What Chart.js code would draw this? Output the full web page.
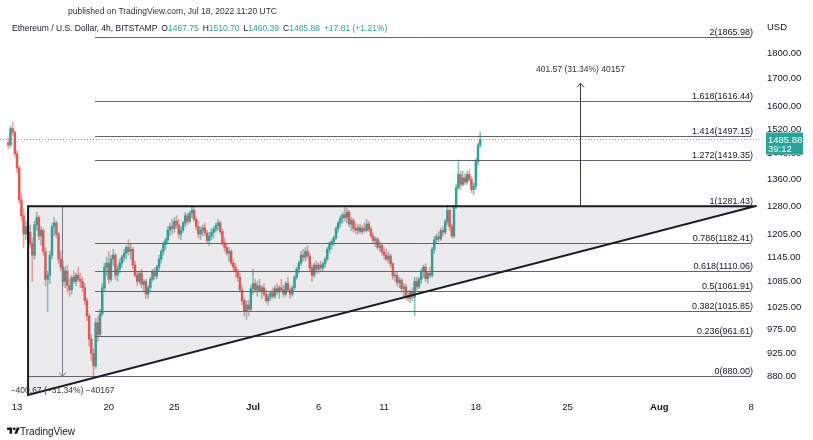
<!DOCTYPE html>
<html>
<head>
<meta charset="utf-8">
<script src="https://cdn.jsdelivr.net/npm/chart.js@4.4.1/dist/chart.umd.min.js"></script>
<style>
  html, body { margin: 0; padding: 0; background: #fff; }
  #wrap { position: relative; width: 813px; height: 440px; overflow: hidden; }
  canvas { display: block; }
  .txt { position: absolute; font-family: "Liberation Sans", Arial, sans-serif; color: #131722; white-space: nowrap; }
  .v { color: #26a69a; }
  .g { margin-left: 4px; }
</style>
</head>
<body>
<div id="wrap">
  <canvas id="chart" width="813" height="440"></canvas>
  <div class="txt" style="left:68px;top:6px;font-size:8.5px;color:#333;">published on TradingView.com, Jul 18, 2022 11:20 UTC</div>
  <div class="txt" style="left:12px;top:23px;font-size:8.5px;">Ethereum / U.S. Dollar, 4h, BITSTAMP<span class="g">O</span><span class="v">1467.75</span><span class="g">H</span><span class="v">1510.70</span><span class="g">L</span><span class="v">1460.39</span><span class="g">C</span><span class="v">1485.88</span><span class="v g">+17.81 (+1.21%)</span></div>
  <div class="txt" style="left:7px;top:426px;font-size:10px;">
    <svg width="13" height="10" viewBox="0 0 36 28" style="vertical-align:-1px"><path d="M14 22H7V11H0V4h14v18z" fill="#131722"/><circle cx="20" cy="8" r="4" fill="#131722"/><path d="M28 22h-8l7.5-18h8L28 22z" fill="#131722"/></svg>TradingView
  </div>
</div>
<script>
// 4h candles, Jun 12 08:00 UTC .. Jul 18 08:00 UTC (x axis = days since Jun 13 00:00)
const firstCandleDay = -2 / 3;

const opens = [
  1475, 1468, 1522, 1510,                     // Jun 12
  1440, 1395, 1300, 1255, 1205, 1225,         // Jun 13
  1210, 1180, 1150, 1230, 1250, 1200,         // Jun 14
  1215, 1160, 1090, 1100, 1150, 1225,         // Jun 15
  1235, 1205, 1140, 1120, 1085, 1110,         // Jun 16
  1075, 1065, 1095, 1085, 1100, 1090,         // Jun 17
  1085, 1070, 1040, 1005, 955, 925,           // Jun 18
  900, 990, 965, 1010, 1070, 1120,            // Jun 19
  1130, 1090, 1140, 1150, 1100, 1115,         // Jun 20
  1130, 1145, 1155, 1170, 1160, 1165,         // Jun 21
  1125, 1100, 1085, 1105, 1078, 1085,         // Jun 22
  1055, 1070, 1090, 1110, 1098, 1120,         // Jun 23
  1140, 1160, 1178, 1190, 1215, 1225,         // Jun 24
  1220, 1240, 1230, 1205, 1215, 1235,         // Jun 25
  1255, 1240, 1262, 1270, 1245, 1225,         // Jun 26
  1205, 1215, 1222, 1208, 1188, 1200,         // Jun 27
  1210, 1218, 1228, 1235, 1212, 1182,         // Jun 28
  1170, 1155, 1160, 1130, 1120, 1110,         // Jun 29
  1095, 1065, 1040, 1015, 1030, 1020,         // Jun 30
  1068, 1080, 1065, 1075, 1062, 1070,         // Jul 1
  1055, 1040, 1048, 1058, 1050, 1068,         // Jul 2
  1060, 1070, 1065, 1055, 1080, 1065,         // Jul 3
  1055, 1070, 1095, 1115, 1130, 1150,         // Jul 4
  1145, 1160, 1148, 1118, 1100, 1125,         // Jul 5
  1115, 1125, 1118, 1128, 1140, 1165,         // Jul 6
  1178, 1185, 1195, 1220, 1235, 1248,         // Jul 7
  1258, 1250, 1265, 1232, 1242, 1220,         // Jul 8
  1215, 1222, 1212, 1220, 1215, 1232,         // Jul 9
  1218, 1200, 1188, 1192, 1170, 1175,         // Jul 10
  1158, 1150, 1140, 1148, 1128, 1098,         // Jul 11
  1100, 1082, 1088, 1068, 1072, 1050,         // Jul 12
  1045, 1060, 1048, 1085, 1072, 1090,         // Jul 13
  1110, 1120, 1092, 1105, 1100, 1165,         // Jul 14
  1190, 1198, 1192, 1215, 1210, 1238,         // Jul 15
  1270, 1225, 1200, 1280, 1335, 1375,         // Jul 16
  1345, 1365, 1352, 1375, 1360, 1330,         // Jul 17
  1340, 1415, 1467.75                         // Jul 18
];
const highs = [
  1490, 1530, 1545, 1515,
  1450, 1400, 1320, 1275, 1240, 1250,
  1230, 1195, 1240, 1265, 1255, 1225,
  1220, 1170, 1110, 1160, 1235, 1250,
  1240, 1210, 1160, 1135, 1120, 1125,
  1090, 1100, 1110, 1105, 1120, 1105,
  1095, 1080, 1045, 1010, 965, 935,
  1000, 1005, 1020, 1080, 1130, 1145,
  1160, 1150, 1165, 1155, 1125, 1140,
  1150, 1165, 1175, 1190, 1180, 1170,
  1135, 1110, 1110, 1115, 1090, 1090,
  1075, 1095, 1115, 1118, 1125, 1150,
  1165, 1185, 1195, 1225, 1235, 1245,
  1250, 1255, 1245, 1225, 1240, 1265,
  1262, 1268, 1281, 1278, 1252, 1240,
  1225, 1230, 1235, 1215, 1210, 1220,
  1225, 1235, 1245, 1240, 1218, 1195,
  1180, 1170, 1165, 1140, 1130, 1115,
  1105, 1075, 1045, 1040, 1040, 1075,
  1115, 1090, 1085, 1090, 1075, 1080,
  1065, 1055, 1062, 1070, 1075, 1080,
  1075, 1090, 1075, 1085, 1095, 1070,
  1075, 1100, 1120, 1135, 1160, 1165,
  1170, 1175, 1155, 1125, 1130, 1135,
  1130, 1135, 1132, 1145, 1170, 1185,
  1192, 1200, 1225, 1240, 1255, 1265,
  1278, 1275, 1270, 1250, 1248, 1235,
  1230, 1232, 1228, 1235, 1245, 1240,
  1225, 1208, 1198, 1196, 1185, 1180,
  1170, 1165, 1158, 1152, 1132, 1110,
  1108, 1095, 1092, 1080, 1078, 1062,
  1065, 1070, 1095, 1095, 1095, 1115,
  1125, 1128, 1110, 1120, 1170, 1200,
  1205, 1210, 1222, 1225, 1245, 1285,
  1275, 1232, 1285, 1345, 1420, 1385,
  1385, 1378, 1385, 1390, 1370, 1350,
  1425, 1475, 1510.70
];
const lows = [
  1455, 1460, 1500, 1430,
  1380, 1290, 1240, 1170, 1190, 1195,
  1170, 1085, 1140, 1215, 1190, 1175,
  1150, 1075, 1015, 1080, 1140, 1200,
  1195, 1130, 1110, 1075, 1070, 1060,
  1050, 1055, 1080, 1075, 1085, 1070,
  1060, 1030, 995, 940, 910, 881,
  895, 950, 960, 1005, 1060, 1100,
  1080, 1085, 1125, 1090, 1085, 1105,
  1120, 1135, 1140, 1150, 1140, 1115,
  1095, 1075, 1080, 1070, 1060, 1045,
  1045, 1060, 1085, 1090, 1092, 1110,
  1130, 1150, 1165, 1180, 1200, 1205,
  1210, 1220, 1195, 1190, 1210, 1225,
  1230, 1235, 1250, 1240, 1215, 1195,
  1190, 1200, 1200, 1180, 1175, 1190,
  1195, 1210, 1215, 1205, 1175, 1160,
  1150, 1135, 1125, 1110, 1095, 1085,
  1060, 1030, 1005, 998, 1005, 1015,
  1055, 1060, 1050, 1060, 1045, 1050,
  1035, 1030, 1040, 1045, 1045, 1055,
  1045, 1060, 1048, 1050, 1060, 1045,
  1050, 1065, 1090, 1105, 1125, 1135,
  1135, 1140, 1110, 1085, 1095, 1105,
  1105, 1110, 1110, 1120, 1135, 1155,
  1165, 1175, 1190, 1210, 1225, 1235,
  1240, 1235, 1225, 1215, 1210, 1205,
  1205, 1208, 1205, 1210, 1210, 1212,
  1195, 1180, 1172, 1165, 1160, 1150,
  1140, 1135, 1130, 1120, 1090, 1085,
  1075, 1070, 1060, 1050, 1042, 1038,
  1035, 1040, 1006, 1065, 1068, 1080,
  1095, 1085, 1080, 1095, 1095, 1155,
  1180, 1185, 1188, 1200, 1205, 1230,
  1215, 1195, 1195, 1275, 1330, 1330,
  1340, 1345, 1345, 1355, 1320, 1315,
  1330, 1405, 1460.39
];
const closes = [
  1468, 1522, 1510, 1440,
  1395, 1300, 1255, 1205, 1225, 1210,
  1180, 1150, 1230, 1250, 1200, 1215,
  1160, 1090, 1100, 1150, 1225, 1235,
  1205, 1140, 1120, 1085, 1110, 1075,
  1065, 1095, 1085, 1100, 1090, 1085,
  1070, 1040, 1005, 955, 925, 900,
  990, 965, 1010, 1070, 1120, 1130,
  1090, 1140, 1150, 1100, 1115, 1130,
  1145, 1155, 1170, 1160, 1165, 1125,
  1100, 1085, 1105, 1078, 1085, 1055,
  1070, 1090, 1110, 1098, 1120, 1140,
  1160, 1178, 1190, 1215, 1225, 1220,
  1240, 1230, 1205, 1215, 1235, 1255,
  1240, 1262, 1270, 1245, 1225, 1205,
  1215, 1222, 1208, 1188, 1200, 1210,
  1218, 1228, 1235, 1212, 1182, 1170,
  1155, 1160, 1130, 1120, 1110, 1095,
  1065, 1040, 1015, 1030, 1020, 1068,
  1080, 1065, 1075, 1062, 1070, 1055,
  1040, 1048, 1058, 1050, 1068, 1060,
  1070, 1065, 1055, 1080, 1065, 1055,
  1070, 1095, 1115, 1130, 1150, 1145,
  1160, 1148, 1118, 1100, 1125, 1115,
  1125, 1118, 1128, 1140, 1165, 1178,
  1185, 1195, 1220, 1235, 1248, 1258,
  1250, 1265, 1232, 1242, 1220, 1215,
  1222, 1212, 1220, 1215, 1232, 1218,
  1200, 1188, 1192, 1170, 1175, 1158,
  1150, 1140, 1148, 1128, 1098, 1100,
  1082, 1088, 1068, 1072, 1050, 1045,
  1060, 1048, 1085, 1072, 1090, 1110,
  1120, 1092, 1105, 1100, 1165, 1190,
  1198, 1192, 1215, 1210, 1238, 1270,
  1225, 1200, 1280, 1335, 1375, 1345,
  1365, 1352, 1375, 1360, 1330, 1340,
  1415, 1467.75, 1485.88
];

// axes
const xMin = -1.3, xMax = 56.45;
const yMin = 840, yMax = 1949;
const dayTicks = [0, 7, 12, 18, 23, 28, 35, 42, 49, 56];
const dayLabels = ["13", "20", "25", "Jul", "6", "11", "18", "25", "Aug", "8"];
const priceTicks = [880, 925, 975, 1025, 1085, 1145, 1205, 1280, 1360, 1440, 1520, 1600, 1700, 1800];

// fibonacci extension
const fibRatios = ["2", "1.618", "1.414", "1.272", "1", "0.786", "0.618", "0.5", "0.382", "0.236", "0"];
const fibPrices = [1865.98, 1616.44, 1497.15, 1419.35, 1281.43, 1182.41, 1110.06, 1061.91, 1015.85, 961.61, 880.00];
const fibFromDay = 5.95, fibToDay = 56.0;

// ascending triangle
const triangleDays = [0.84, 0.84, 56.3];
const trianglePrices = [1281.43, 843.7, 1281.43];

// price ranges
const dropDays = [0.84, 5.95];
const dropPrices = [1281.43, 880.00];
const dropLabel = "\u2212400.67 (\u221231.34%) \u221240167";
const riseDay = 42.94;
const risePrices = [1281.43, 1683.0];
const riseLabel = "401.57 (31.34%) 40157";

const lastPrice = 1485.88;
const countdown = "39:12";

const UP = "#26a69a", DOWN = "#ef5350";
const FONT = '"Liberation Sans", Arial, sans-serif';

const candleDays = opens.map((_, i) => firstCandleDay + i / 6);
const isUp = i => closes[i] >= opens[i];

const drawings = {
  id: "drawings",
  afterDatasetsDraw(chart) {
    const ctx = chart.ctx, a = chart.chartArea;
    const X = d => chart.scales.x.getPixelForValue(d);
    const Y = p => chart.scales.y.getPixelForValue(p);
    ctx.save();
    ctx.beginPath();
    ctx.rect(a.left, a.top, a.right - a.left, a.bottom - a.top);
    ctx.clip();

    // triangle fill
    ctx.beginPath();
    triangleDays.forEach((d, i) => {
      if (i === 0) ctx.moveTo(X(d), Y(trianglePrices[i]));
      else ctx.lineTo(X(d), Y(trianglePrices[i]));
    });
    ctx.closePath();
    ctx.fillStyle = "rgba(120,123,134,0.15)";
    ctx.fill();

    // fib levels
    ctx.lineWidth = 1;
    ctx.strokeStyle = "#62656f";
    ctx.fillStyle = "#131722";
    ctx.font = "9px " + FONT;
    ctx.textAlign = "right";
    ctx.textBaseline = "alphabetic";
    fibPrices.forEach((p, i) => {
      const y = Math.round(Y(p)) + 0.5;
      ctx.beginPath();
      ctx.moveTo(X(fibFromDay), y);
      ctx.lineTo(X(fibToDay), y);
      ctx.stroke();
      ctx.fillText(fibRatios[i] + "(" + p.toFixed(2) + ")", X(fibToDay) + 2, y - 3);
    });

    // drop range: bottom line + arrow
    const yb = Math.round(Y(dropPrices[1])) + 0.5;
    ctx.beginPath();
    ctx.moveTo(X(dropDays[0]), yb);
    ctx.lineTo(X(dropDays[1]), yb);
    ctx.stroke();
    const xm = Math.round((X(dropDays[0]) + X(dropDays[1])) / 2) + 0.5;
    ctx.strokeStyle = "#787b86";
    ctx.beginPath();
    ctx.moveTo(xm, Y(dropPrices[0]));
    ctx.lineTo(xm, yb);
    ctx.moveTo(xm - 3.5, yb - 4);
    ctx.lineTo(xm, yb);
    ctx.lineTo(xm + 3.5, yb - 4);
    ctx.stroke();

    // triangle border
    ctx.beginPath();
    triangleDays.forEach((d, i) => {
      if (i === 0) ctx.moveTo(X(d), Y(trianglePrices[i]));
      else ctx.lineTo(X(d), Y(trianglePrices[i]));
    });
    ctx.closePath();
    ctx.lineWidth = 2;
    ctx.strokeStyle = "#1a1c24";
    ctx.stroke();

    ctx.fillStyle = "#333";
    ctx.font = "8.5px " + FONT;
    ctx.textAlign = "center";
    ctx.textBaseline = "middle";
    ctx.fillText(dropLabel, xm, yb + 14);

    // rise range arrow
    const xr = Math.round(X(riseDay)) + 0.5, yt = Y(risePrices[1]);
    ctx.lineWidth = 1;
    ctx.strokeStyle = "#3a3d48";
    ctx.beginPath();
    ctx.moveTo(xr, Y(risePrices[0]));
    ctx.lineTo(xr, yt);
    ctx.moveTo(xr - 3.5, yt + 4);
    ctx.lineTo(xr, yt);
    ctx.lineTo(xr + 3.5, yt + 4);
    ctx.stroke();
    ctx.fillText(riseLabel, xr, yt - 14);

    // last price dotted line
    const yl = Math.round(Y(lastPrice)) + 0.5;
    ctx.setLineDash([1, 2]);
    ctx.strokeStyle = "rgba(38,166,154,0.8)";
    ctx.beginPath();
    ctx.moveTo(a.left, yl);
    ctx.lineTo(a.right, yl);
    ctx.stroke();
    ctx.restore();
  },
  afterDraw(chart) {
    const ctx = chart.ctx, a = chart.chartArea;
    const Y = p => chart.scales.y.getPixelForValue(p);
    ctx.save();
    ctx.fillStyle = "#131722";
    ctx.font = "9.5px " + FONT;
    ctx.textAlign = "left";
    ctx.textBaseline = "middle";
    ctx.fillText("USD", a.right + 10, 27);

    const yl = Y(lastPrice);
    ctx.fillStyle = UP;
    ctx.fillRect(a.right + 9, yl - 7, 37, 22);
    ctx.fillStyle = "#fff";
    ctx.font = "9.5px " + FONT;
    ctx.fillText(lastPrice.toFixed(2), a.right + 11, yl + 0.5);
    ctx.fillText(countdown, a.right + 11, yl + 10);
    ctx.restore();
  }
};

new Chart(document.getElementById("chart"), {
  type: "bar",
  data: {
    datasets: [
      {
        label: "wick",
        data: candleDays.map((d, i) => ({ x: d, y: [lows[i], highs[i]] })),
        backgroundColor: c => isUp(c.dataIndex) ? "rgba(38,166,154,0.6)" : "rgba(239,83,80,0.55)",
        barThickness: 1,
        grouped: false
      },
      {
        label: "body",
        data: candleDays.map((d, i) => ({ x: d, y: [Math.min(opens[i], closes[i]), Math.max(opens[i], closes[i])] })),
        backgroundColor: c => isUp(c.dataIndex) ? UP : DOWN,
        barThickness: 1.8,
        minBarLength: 1,
        grouped: false
      }
    ]
  },
  options: {
    responsive: false,
    animation: false,
    events: [],
    layout: { padding: { top: 17, left: 0, right: 0, bottom: 0 } },
    plugins: { legend: { display: false }, tooltip: { enabled: false } },
    scales: {
      x: {
        type: "linear",
        min: xMin,
        max: xMax,
        offset: false,
        grid: { display: false, drawTicks: false },
        border: { display: false },
        afterBuildTicks: s => { s.ticks = dayTicks.map(v => ({ value: v })); },
        afterFit: s => { s.height = 43; },
        ticks: {
          autoSkip: false,
          maxRotation: 0,
          padding: 5,
          color: "#131722",
          callback: (v, i) => dayLabels[i],
          font: c => ({
            family: FONT,
            size: 9.5,
            weight: (dayLabels[c.index] === "Jul" || dayLabels[c.index] === "Aug") ? "bold" : "normal"
          })
        }
      },
      y: {
        type: "logarithmic",
        position: "right",
        min: yMin,
        max: yMax,
        grid: { display: false, drawTicks: false },
        border: { display: false },
        afterBuildTicks: s => { s.ticks = priceTicks.map(v => ({ value: v })); },
        afterFit: s => { s.width = 56; },
        ticks: {
          autoSkip: false,
          padding: 10,
          color: "#131722",
          font: { family: FONT, size: 9.5 },
          callback: v => Number(v).toFixed(2)
        }
      }
    }
  },
  plugins: [drawings]
});
</script>
</body>
</html>
